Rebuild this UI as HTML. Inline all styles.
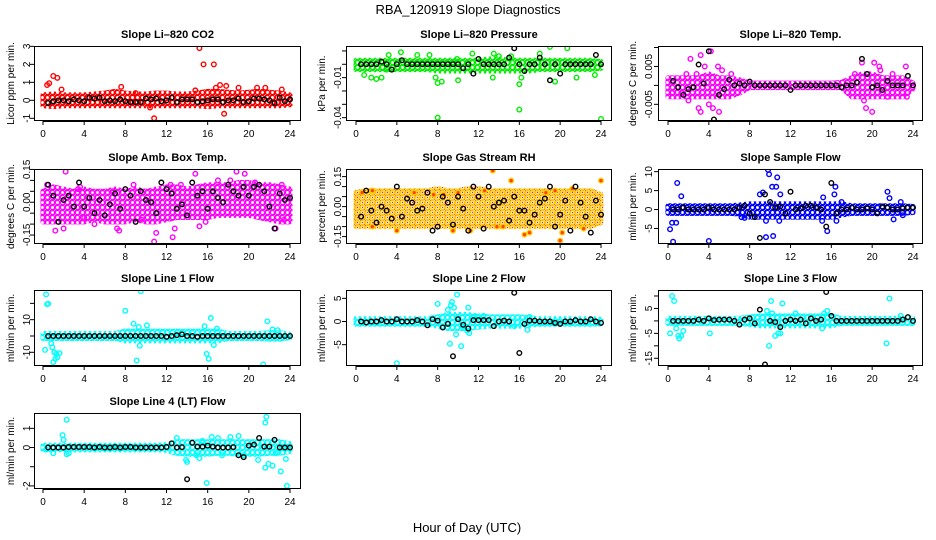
<!DOCTYPE html>
<html><head><meta charset="utf-8"><style>
html,body{margin:0;padding:0;background:#fff;}
svg{display:block;font-family:"Liberation Sans",Arial,sans-serif;}
</style></head><body>
<svg id="chart" width="936" height="540" viewBox="0 0 936 540">
<defs id="defs"></defs>
<text x="468" y="14" text-anchor="middle" font-size="13">RBA_120919  Slope Diagnostics</text>
<text x="467" y="532" text-anchor="middle" font-size="13">Hour of Day (UTC)</text>
</svg>
<script>
const bandHours=[0,1,2,3,4,5,6,7,8,9,10,11,12,13,14,15,16,17,18,19,20,21,22,23,24];
const blackHours=[0.5,1,1.5,2,2.5,3,3.5,4,4.5,5,5.5,6,6.5,7,7.5,8,8.5,9,9.5,10,10.5,11,11.5,12,12.5,13,13.5,14,14.5,15,15.5,16,16.5,17,17.5,18,18.5,19,19.5,20,20.5,21,21.5,22,22.5,23,23.5,24];
const xTicks=[0,4,8,12,16,20,24];

const p1Lo=[-0.3,-0.35,-0.3,-0.3,-0.3,-0.3,-0.3,-0.3,-0.3,-0.3,-0.3,-0.3,-0.3,-0.3,-0.3,-0.3,-0.35,-0.3,-0.3,-0.3,-0.3,-0.3,-0.3,-0.3,-0.25];
const p1Hi=[0.3,0.35,0.3,0.3,0.3,0.35,0.4,0.5,0.4,0.35,0.35,0.4,0.4,0.35,0.35,0.4,0.5,0.5,0.45,0.4,0.45,0.5,0.45,0.4,0.3];
const p1OutX=[0.4,0.6,1.0,1.4,1.8,7.6,10.8,10.4,15.2,15.6,16.6,16.8,17.2,17.6,17.8,19.0,20.8,21.6,23.2,9.0,14.8];
const p1OutY=[0.85,0.95,1.35,1.25,0.6,0.75,-1.0,-0.4,2.9,2.0,2.0,0.7,0.85,-0.75,0.8,0.7,0.7,0.7,0.6,0.4,0.55];
const p1Blk=[-0.15,-0.05,0,0,-0.05,0.05,0,-0.05,0.15,0.1,0.15,-0.05,0,-0.05,0.05,-0.05,-0.1,-0.1,-0.1,0.1,0.05,0.1,-0.05,0,0.15,-0.1,0.05,0.05,0.05,-0.1,-0.05,0,0.05,0.05,-0.1,0,0,0.1,-0.1,-0.05,0.1,0.1,0.05,0,-0.15,0.15,-0.05,0.05];

const p2Lo=[-0.004,-0.004,-0.004,-0.004,-0.004,-0.004,-0.004,-0.004,-0.005,-0.005,-0.005,-0.005,-0.005,-0.005,-0.005,-0.005,-0.005,-0.005,-0.004,-0.004,-0.004,-0.004,-0.004,-0.004,-0.003];
const p2Hi=[0.003,0.003,0.003,0.003,0.003,0.003,0.003,0.003,0.003,0.003,0.003,0.003,0.003,0.004,0.004,0.003,0.003,0.003,0.003,0.003,0.003,0.003,0.003,0.003,0.002];
const p2OutX=[0.8,1.5,2,2.5,3.2,4.4,6,7.2,7.8,8,8.4,9.9,10,11.4,13.5,13.4,15.2,16,16.2,16,8,19,20.7,18,19.5,21.6,23.4,24,14,3];
const p2OutY=[-0.008,-0.01,-0.011,-0.01,0.007,0.009,0.007,0.007,-0.01,-0.014,-0.013,0.004,-0.012,0.008,0.008,-0.01,0.006,-0.015,-0.01,-0.034,-0.04,0.013,0.012,0.008,-0.013,-0.01,-0.008,-0.041,0.006,-0.004];
const p2Blk=[0,0,0,0,0.002,0,-0.004,0,0.003,0,0,0,0,0,0,0,0,0,0,0,-0.003,0,-0.007,0.004,0,0,0,0,0,0.005,0.012,0,-0.005,0,0,0.005,0,-0.012,0,-0.007,0,0,0,0,0,0,0.007,0];

const p3Lo=[-0.003,-0.003,-0.003,-0.003,-0.003,-0.003,-0.003,-0.002,-0.0006,-0.0006,-0.0006,-0.0006,-0.0006,-0.0006,-0.0006,-0.0006,-0.0006,-0.0006,-0.003,-0.003,-0.003,-0.003,-0.003,-0.003,-0.001];
const p3Hi=[0.002,0.002,0.002,0.002,0.003,0.002,0.002,0.0015,0.0006,0.0006,0.0006,0.0006,0.0006,0.0006,0.0006,0.0006,0.0006,0.0008,0.002,0.003,0.003,0.002,0.002,0.002,0.0006];
const p3OutX=[2.2,3.2,4.2,3.6,3,3.2,4,4.4,5,2,1.8,4.9,19,19.5,20,19.4,20.2,20.7,23.3,22,20.8,18.3,19.2,21.5,23.4,2.8,5.3,6.2,0.4,1.3];
const p3OutY=[0.007,0.008,0.009,0.005,-0.006,-0.007,-0.005,-0.006,-0.007,-0.004,0.003,0.005,0.006,0.003,-0.007,-0.006,0.006,0.005,0.005,0.003,0.004,0.003,-0.004,-0.003,-0.003,0.003,0.004,0.003,-0.002,-0.002];
const p3Blk=[0.0012,-0.0005,-0.0025,-0.001,-0.0005,0.0055,0.0005,0.009,-0.009,-0.0025,-0.001,0.0015,0,0.0005,0,0.001,0,0,0,0,0,0,0,-0.0012,0,0,0,0,0,0,0,0,0,-0.0005,0,0,0.0008,0.007,0.003,-0.0005,0,-0.0012,0.0012,0,0,0,0.0025,0];

const p4Lo=[-0.09,-0.09,-0.09,-0.09,-0.09,-0.08,-0.09,-0.09,-0.09,-0.08,-0.09,-0.09,-0.08,-0.07,-0.07,-0.07,-0.07,-0.06,-0.06,-0.06,-0.06,-0.07,-0.08,-0.09,-0.09];
const p4Hi=[0.05,0.07,0.06,0.05,0.06,0.05,0.05,0.06,0.05,0.06,0.05,0.06,0.07,0.07,0.06,0.07,0.08,0.08,0.08,0.09,0.09,0.08,0.08,0.07,0.06];
const p4OutX=[2.2,0.4,1.2,2.0,3.4,3.6,6.8,7.2,7.4,8.8,9.6,10.8,11,12.4,12.8,12.6,13.4,14.8,15.2,15.8,18.2,18.8,19.6,20.6,22.6,23.2,23.4,5,4,17];
const p4OutY=[0.14,0.08,-0.13,-0.12,0.06,0.07,0.05,-0.12,-0.13,0.08,-0.08,-0.18,-0.14,0.08,-0.12,-0.16,0.08,0.13,-0.11,-0.09,0.1,0.14,0.13,0.09,-0.12,0.08,-0.08,-0.1,-0.07,0.1];
const p4Blk=[0.08,0.03,-0.09,0.01,0.03,-0.02,0.09,-0.02,0.02,-0.05,0.01,-0.06,-0.01,0.04,-0.03,0.06,0.03,-0.09,0.05,0.01,0.00,-0.05,0.09,0.06,0.04,-0.03,-0.01,-0.06,0.09,0.03,0.05,-0.03,0.05,0.02,0.00,0.08,0.05,0.03,0.07,0.03,0.07,0.08,0.05,-0.02,-0.12,0.04,0.01,0.02];

const p5Lo=[-0.1,-0.1,-0.1,-0.1,-0.1,-0.1,-0.1,-0.1,-0.1,-0.1,-0.1,-0.1,-0.1,-0.1,-0.1,-0.1,-0.1,-0.1,-0.1,-0.1,-0.1,-0.1,-0.1,-0.1,-0.08];
const p5Hi=[0.07,0.08,0.08,0.08,0.08,0.08,0.08,0.08,0.09,0.08,0.08,0.09,0.09,0.08,0.08,0.08,0.08,0.08,0.08,0.08,0.08,0.08,0.08,0.08,0.06];
const p5OutX=[0.6,1.6,1.6,4,5.7,7.6,8.6,9.5,10,11.2,13.4,13.8,14.4,15.2,16.5,17,18.6,19.5,20,20.2,21.2,22.3,24,12.6];
const p5OutY=[0.07,0.08,-0.1,-0.12,0.07,0.06,0.06,-0.12,0.07,-0.12,0.18,-0.1,-0.1,0.13,-0.14,-0.13,0.07,0.08,-0.17,-0.13,0.09,-0.11,0.13,0.08];
const p5Blk=[-0.05,0.08,-0.02,-0.08,0.00,-0.02,-0.06,0.10,-0.05,0.04,0.02,-0.02,-0.01,0.07,-0.12,-0.10,0.05,0.02,-0.09,0.05,-0.01,-0.12,0.10,0.05,-0.11,0.10,0.00,0.02,0.03,-0.07,0.05,-0.02,-0.02,-0.08,-0.04,0.02,0.04,0.10,-0.10,-0.04,0.03,-0.12,0.10,0.02,-0.05,-0.13,0.03,-0.04];

const p6Lo=[-1,-1,-1,-1,-1,-1,-1,-1.2,-2,-2,-2,-2,-2,-2,-2,-2,-2,-1.5,-1,-1,-1,-1,-1,-1,-0.8];
const p6Hi=[1,1,1,1,1,1,1,1.2,1.5,1.5,1.5,1.5,1.5,1.5,1.5,1.5,1.5,1.5,1,1,1,1,1,1,0.8];
const p6OutX=[0.2,0.4,0.5,0.8,0.9,1.3,4,7.2,7.5,9,9.3,9.6,9.8,9.9,10.2,10.6,10.7,10.9,11,10.3,15.2,15.1,15.6,16.3,16.4,16.5,17.0,21.5,21.7,22.1,22.8,23,9.6];
const p6OutY=[-5.2,-3.5,-8.5,-3.5,7,3.5,-8.3,-2,-2.2,4,4.5,-3,10.5,9.3,6,6,8.5,-3,4,-7,3.2,-3,-5.7,4,6,-3,2,4.7,3,-2.6,2,-1.5,-7.3];
const p6Blk=[0,0,0.5,0,0,0,0,0.5,0,0,0,0,0,0.5,1,-1,-2,-7.5,4,2,0.5,0.8,-1,4.7,0,0.3,1,1,0.5,0,-4.5,7,-1,0,0,0.5,0,0,0.3,0,-1,0.8,0.5,0,0,0.3,0.5,0.5];

const p7Lo=[-1.5,-1.5,-1.5,-1.5,-1.5,-1.5,-1.5,-1.5,-3,-3,-3,-3,-3,-3,-3,-3,-3,-3,-1.5,-1.5,-1.5,-1.5,-2,-2,-1];
const p7Hi=[1.5,1.5,1.5,1.5,1.5,1.5,1.5,1.5,3,3,3,3,3,3,3,3,3,3,1.5,1.5,1.5,1.5,2,2,1];
const p7OutX=[0.2,0.3,0.4,0.5,0.8,0.9,1,1.1,1.3,1.4,1.6,1.2,8,8.8,9.1,9.3,9.5,9.4,10.1,15.9,16.1,16.3,16.6,16.9,15.7,21.4,21.8,22.3,22.8];
const p7OutY=[-8.5,25.5,19.5,19.8,-4.5,-7,-16,-10,-11,-13,-10.5,-14,15.5,7.5,-15,5.5,27.5,-6,6.5,-11,-14,11,-5.5,4.5,6,-17.5,9,4,3.5];
const p7Blk=[0,0,0,0,0,0,0,0,0,0,0,0,0,0,0,0,0,0,0,0,0,0,0,-0.5,0,0.5,1,0,0,-0.5,0,0,0,0,0,0,0,0,0,0,0,0,0,0,0,0,0,0];

const p8Lo=[-0.6,-0.6,-0.6,-0.6,-0.6,-0.6,-0.6,-0.6,-1,-1.5,-1.5,-1.5,-1.2,-1,-1,-1,-1,-0.8,-0.6,-0.6,-0.6,-0.6,-0.6,-0.6,-0.5];
const p8Hi=[0.6,0.6,0.6,0.6,0.6,0.6,0.6,0.6,1,1.5,1.5,1.5,1.2,1,1,1,1,0.8,0.6,0.6,0.6,0.6,0.6,0.6,0.5];
const p8OutX=[4,8,8.5,9,9.3,9.4,9.6,9.9,9.8,9.2,10.3,11,10.9,11.1,10.5,12.5,15.5,16.8,17,11.6];
const p8OutY=[-9,3.8,-1,2.5,3.5,4.2,3,5.8,-2.8,-4.8,-5.3,3,-2,-2.5,-1,1.2,-1,-1.8,1,1];
const p8Blk=[0,-0.2,0,0,0.3,0,0,0.5,0,0,0,0.3,0,-0.8,0.5,0.2,-1.3,-0.5,-7.5,0.5,-0.7,-1.5,0.3,0.3,0.3,0.3,-1,0,0.2,0,6.2,-6.8,-0.5,0.2,0.2,0,0,0,-0.3,-0.5,0,0,0.3,0,0,0.5,0,-0.3];

const p9Lo=[-1,-1,-1,-1,-1,-1,-1,-1,-1.5,-2,-2,-2,-2,-2,-2,-2,-2,-1,-1,-1,-1,-1,-1,-1,-1];
const p9Hi=[1,1,1,1,1,1,1,1,1.5,2,2,2,2,2,2,2,2,1,1,1,1,1,1,1,1];
const p9OutX=[0.2,0.3,0.4,0.6,0.8,1,1.1,1.3,1.5,4.1,9.7,10.1,10.2,9.9,10.5,10.8,11.2,11,12.5,15.1,15.3,15.6,21.4,21.7,22.8];
const p9OutY=[-5,14,10,8,-3,-6,-7,-6,-4,-5,4,8,3,-10,-6,-5,7,-5,3,-3,3,4,-9,9,2];
const p9Blk=[0,0,0,0,0,0.5,0,1,0.3,0.5,0.5,0.5,0,-1.5,0.5,1,-1,4.5,-17.5,0,-0.5,-2.5,0,0.5,0,0.5,-1,1,0,0.5,11.6,2,0,0,0,0,0,0,0,0,0,0,0,0,0,0.5,1.5,0];

const p10Lo=[-0.12,-0.12,-0.12,-0.12,-0.12,-0.12,-0.12,-0.12,-0.12,-0.12,-0.12,-0.12,-0.15,-0.3,-0.35,-0.35,-0.35,-0.3,-0.3,-0.35,-0.35,-0.35,-0.3,-0.3,-0.2];
const p10Hi=[0.12,0.12,0.12,0.12,0.12,0.12,0.12,0.12,0.12,0.12,0.12,0.12,0.15,0.3,0.3,0.3,0.3,0.3,0.3,0.3,0.3,0.3,0.3,0.3,0.2];
const p10OutX=[0.3,1,1.9,2,2.3,2.3,2.5,13,13.9,14,14.9,15.2,15.5,15.9,16.4,17,17.4,18.2,19,19.5,20.9,21.6,21.7,21.6,21.9,22.3,23.1,23.6,23.7,22.6];
const p10OutY=[-0.1,-0.3,0.65,0.4,1.45,-0.35,-0.3,0.5,-0.65,-0.75,-0.4,-0.55,0.35,-1.85,0.55,0.5,-0.4,0.55,0.6,-0.4,-0.65,1.3,1.6,-1.05,-0.85,-0.95,-1.25,-0.6,-2,-0.3];
const p10Blk=[0,0,0,0,0.03,0.03,0.03,0.03,0.03,0,0.03,0,0,0.03,0,0.03,0.03,0,0,0,0,0,0,0.03,0.22,0,0.02,-1.65,0.25,0.05,0.05,0.1,0.05,0,0,0,0.02,-0.4,-0.5,0.1,0.15,0.5,0.05,0.05,0.4,0,0,0];

const yTicks1=[-1,0,1,2,3], yLab1=["-1","0","1","2","3"];
const yTicks2=[0.01,0,-0.01,-0.02,-0.03,-0.04], yLab2=["","","-0.01","","","-0.04"];
const yTicks3=[0.01,0.005,0,-0.005], yLab3=["","0.005","","-0.005"];
const yTicks4=[0.15,0.1,0.05,0,-0.05,-0.1,-0.15], yLab4=["0.15","","","0.00","","","-0.15"];
const yTicks5=[0.15,0.1,0.05,0,-0.05,-0.1,-0.15], yLab5=["0.15","","","0.00","","","-0.15"];
const yTicks6=[10,5,0,-5], yLab6=["10","5","0","-5"];
const yTicks7=[20,10,0,-10], yLab7=["","10","","-10"];
const yTicks8=[5,0,-5], yLab8=["5","0","-5"];
const yTicks9=[10,5,0,-5,-10,-15], yLab9=["","5","","-5","","-15"];
const yTicks10=[1,0,-1,-2], yLab10=["1","0","","-2"];

const NS="http://www.w3.org/2000/svg";
const svg=document.getElementById('chart');
const defs=document.getElementById('defs');
function mk(tag,attrs,parent){const e=document.createElementNS(NS,tag);for(const k in attrs)e.setAttribute(k,attrs[k]);(parent||svg).appendChild(e);return e;}

const cols=[{l:34,r:301,x0:43,x24:290,lab:10,tick:26},{l:346,r:612,x0:356,x24:601,lab:321,tick:337},{l:658,r:923,x0:668,x24:913,lab:632,tick:648}];
const rows=[{t:46,b:121},{t:169,b:244},{t:290,b:366},{t:413,b:489}];

const panels=[
 {title:"Slope Li\u2013820 CO2",ylab:"Licor ppm per min.",col:0,row:0,ylim:[-1.15,3.02],color:"#ff0000",lo:p1Lo,hi:p1Hi,ox:p1OutX,oy:p1OutY,blk:p1Blk,yt:yTicks1,yl:yLab1},
 {title:"Slope Li\u2013820 Pressure",ylab:"kPa per min.",col:1,row:0,ylim:[-0.0425,0.0137],color:"#00ee00",lo:p2Lo,hi:p2Hi,ox:p2OutX,oy:p2OutY,blk:p2Blk,yt:yTicks2,yl:yLab2},
 {title:"Slope Li\u2013820 Temp.",ylab:"degrees C per min.",col:2,row:0,ylim:[-0.0094,0.0104],color:"#ff00ff",lo:p3Lo,hi:p3Hi,ox:p3OutX,oy:p3OutY,blk:p3Blk,yt:yTicks3,yl:yLab3},
 {title:"Slope Amb. Box Temp.",ylab:"degrees C per min.",col:0,row:1,ylim:[-0.191,0.152],color:"#ff00ff",lo:p4Lo,hi:p4Hi,ox:p4OutX,oy:p4OutY,blk:p4Blk,yt:yTicks4,yl:yLab4},
 {title:"Slope Gas Stream RH",ylab:"percent per min.",col:1,row:1,ylim:[-0.187,0.188],color:"#ffc800",dot:"#ff2000",lo:p5Lo,hi:p5Hi,ox:p5OutX,oy:p5OutY,blk:p5Blk,yt:yTicks5,yl:yLab5},
 {title:"Slope Sample Flow",ylab:"ml/min per min.",col:2,row:1,ylim:[-9.1,10.7],color:"#0000ff",lo:p6Lo,hi:p6Hi,ox:p6OutX,oy:p6OutY,blk:p6Blk,yt:yTicks6,yl:yLab6},
 {title:"Slope Line 1 Flow",ylab:"ml/min per min.",col:0,row:2,ylim:[-18.4,28.2],color:"#00ffff",lo:p7Lo,hi:p7Hi,ox:p7OutX,oy:p7OutY,blk:p7Blk,yt:yTicks7,yl:yLab7},
 {title:"Slope Line 2 Flow",ylab:"ml/min per min.",col:1,row:2,ylim:[-9.6,6.8],color:"#00ffff",lo:p8Lo,hi:p8Hi,ox:p8OutX,oy:p8OutY,blk:p8Blk,yt:yTicks8,yl:yLab8},
 {title:"Slope Line 3 Flow",ylab:"ml/min per min.",col:2,row:2,ylim:[-18.1,12.4],color:"#00ffff",lo:p9Lo,hi:p9Hi,ox:p9OutX,oy:p9OutY,blk:p9Blk,yt:yTicks9,yl:yLab9},
 {title:"Slope Line 4 (LT) Flow",ylab:"ml/min per min.",col:0,row:3,ylim:[-2.16,1.8],color:"#00ffff",lo:p10Lo,hi:p10Hi,ox:p10OutX,oy:p10OutY,blk:p10Blk,yt:yTicks10,yl:yLab10}
];

panels.forEach((p,pi)=>{
 const c=cols[p.col], r=rows[p.row];
 const X=h=>c.x0+(c.x24-c.x0)*h/24;
 const Y=v=>r.b-(v-p.ylim[0])/(p.ylim[1]-p.ylim[0])*(r.b-r.t);
 const pat=mk('pattern',{id:'pat'+pi,width:5,height:5,patternUnits:'userSpaceOnUse'},defs);
 mk('circle',{cx:2.5,cy:2.5,r:2.1,fill:'none',stroke:p.color,'stroke-width':1.3},pat);
 mk('circle',{cx:0,cy:0,r:p.dot?0.9:1.2,fill:p.dot||p.color},pat);
 mk('circle',{cx:5,cy:5,r:p.dot?0.9:1.2,fill:p.dot||p.color},pat);
 if(p.dot){mk('circle',{cx:2.5,cy:2.5,r:0.7,fill:p.dot},pat);}
 const g=mk('g',{});
 
 
 const cp=mk('clipPath',{id:'cp'+pi},g);
 mk('rect',{x:c.l,y:r.t,width:c.r-c.l,height:r.b-r.t},cp);
 const t=mk('text',{x:(c.l+c.r)/2,y:r.t-8,'text-anchor':'middle','font-size':11,'font-weight':'bold'},g);
 t.textContent=p.title;
 
 
 const yl=mk('text',{x:0,y:0,'text-anchor':'middle','font-size':10,transform:`translate(${c.lab+4},${(r.t+r.b)/2}) rotate(-90)`},g);
 yl.textContent=p.ylab;
 
 
 const plot=mk('g',{'clip-path':`url(#cp${pi})`},g);
 let d='M'+bandHours.map((h,i)=>X(h)+','+Y(p.hi[i])).join('L');
 for(let i=bandHours.length-1;i>=0;i--)d+='L'+X(bandHours[i])+','+Y(p.lo[i]);
 d+='Z';
 const band=mk('path',{d:d,fill:`url(#pat${pi})`,stroke:`url(#pat${pi})`,'stroke-width':5,'stroke-linejoin':'round'},plot);
 
 
 p.ox.forEach((h,i)=>{
  const e=mk('circle',{cx:X(h),cy:Y(p.oy[i]),r:2.3,fill:p.dot?'#ff4000':'none',stroke:p.color,'stroke-width':1.4},plot);
  
  
 });
 blackHours.forEach((h,i)=>{
  const e=mk('circle',{cx:X(h),cy:Y(p.blk[i]),r:2.3,fill:'none',stroke:'#000','stroke-width':1.4},plot);
  
  
 });
 const box=mk('rect',{x:c.l+0.5,y:r.t+0.5,width:c.r-c.l-1,height:r.b-r.t-1,fill:'none',stroke:'#000','stroke-width':1},g);
 
 
 mk('line',{x1:X(0),x2:X(24),y1:r.b+0.5,y2:r.b+0.5,stroke:'#000'},g);
 xTicks.forEach(h=>{
  mk('line',{x1:X(h),x2:X(h),y1:r.b,y2:r.b+4,stroke:'#000'},g);
  const tx=mk('text',{x:X(h),y:r.b+16,'text-anchor':'middle','font-size':10},g);
  tx.textContent=h;
  
  
 });
 p.yt.forEach((v,i)=>{
  mk('line',{x1:c.l-4,x2:c.l,y1:Y(v),y2:Y(v),stroke:'#000'},g);
  if(p.yl[i]){
   const ty=mk('text',{x:0,y:0,'text-anchor':'middle','font-size':10,transform:`translate(${c.tick+4},${Y(v)}) rotate(-90)`},g);
   ty.textContent=p.yl[i];
   
   
  }
 });
});
</script>
</body></html>
